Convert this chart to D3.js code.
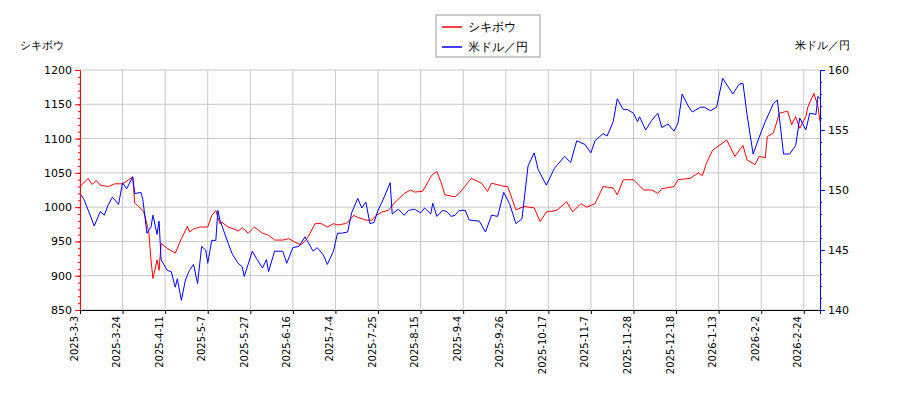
<!DOCTYPE html>
<html><head><meta charset="utf-8">
<script src="https://cdn.jsdelivr.net/npm/d3@7"></script>
<style>body{margin:0;background:#fff}text{font-family:"DejaVu Sans",sans-serif}</style>
</head><body><svg id="c" width="900" height="400"></svg>
<script>
const tickLabels = ["2025-3-3","2025-3-24","2025-4-11","2025-5-7","2025-5-27","2025-6-16","2025-7-4","2025-7-25","2025-8-15","2025-9-4","2025-9-26","2025-10-17","2025-11-7","2025-11-28","2025-12-18","2026-1-13","2026-2-2","2026-2-24"];
const redDays = [0,4,6,8,10,14,17,21,26,27,31,32,34,35,36,38,39,40,43,47,50,53,54,56,59,63,65,67,69,70,73,76,78,80,83,86,90,93,96,100,103,106,109,112,116,119,122,125,127,131,132,135,137,141,144,146,149,152,155,160,163,165,169,173,174,176,178,180,185,187,193,198,201,203,208,211,215,219,224,227,230,235,240,243,247,250,254,258,263,265,268,273,278,282,285,287,293,295,301,305,307,309,312,319,323,327,329,333,335,338,339,342,345,349,351,353,355,358,359,362,364,365];
const redValues = [1030,1042,1033,1039,1032,1030,1034,1034,1044,1006,995,988,962,923,896,923,908,947,940,933,954,972,964,968,971,971,988,995,976,978,971,968,965,970,962,971,962,959,952,952,954,949,945,954,976,976,971,976,974,976,978,988,985,981,981,988,993,995,1006,1020,1025,1022,1023,1044,1048,1052,1037,1018,1015,1020,1042,1035,1023,1035,1031,1030,996,1001,999,979,993,995,1008,993,1005,1000,1005,1030,1028,1018,1040,1040,1025,1025,1020,1027,1030,1040,1042,1050,1046,1064,1083,1098,1074,1090,1069,1062,1074,1072,1103,1108,1137,1140,1120,1132,1115,1132,1146,1166,1147,1125];
const blueDays = [0,2,5,7,10,12,14,16,19,21,23,26,27,30,31,33,35,36,38,39,40,43,45,47,48,50,52,54,56,58,60,62,63,65,67,68,69,73,75,78,80,81,85,87,90,92,93,96,100,102,105,108,111,112,115,117,120,122,125,127,129,132,134,137,139,141,143,145,147,149,153,154,157,160,162,165,168,170,173,174,176,179,181,183,185,187,190,192,197,200,203,206,209,212,215,218,221,224,226,230,234,239,242,245,249,252,254,258,260,263,265,268,270,273,275,276,279,282,285,287,290,293,295,297,300,302,306,308,311,314,317,322,325,327,329,332,335,338,342,344,347,350,353,355,358,360,363,364,365];
const blueValues = [149.7,149.2,147.9,147,148.2,147.9,148.8,149.4,148.8,150.6,150.1,151.1,149.7,149.8,149.2,146.4,146.9,147.9,146.3,147.4,144.2,143.3,143.2,141.9,142.6,140.8,142.5,143.3,143.8,142.2,145.3,145,143.9,145.8,145.8,148.3,147.5,145.6,144.7,143.9,143.6,142.8,144.9,144.3,143.5,144.2,143.2,144.9,144.9,143.9,145.2,145.3,146.1,145.8,144.9,145.2,144.6,143.8,144.9,146.4,146.4,146.5,148.1,149.3,148.5,149,147.2,147.3,148.3,149,150.6,148,148.4,147.9,148.3,148.4,148.1,148.5,148,148.9,147.8,148.3,148.2,147.8,147.9,148.3,148.3,147.5,147.4,146.5,147.9,147.8,149.8,148.8,147.2,147.6,152,153.1,151.7,150.4,151.8,152.8,152.3,154.1,153.8,153.1,154.1,154.7,154.5,155.7,157.6,156.7,156.7,156.4,155.7,156.1,155,155.8,156.4,155.2,155.5,154.9,155.6,158,157,156.5,156.9,156.9,156.6,156.9,159.3,158,158.8,158.9,156.3,153,154.4,155.7,157.2,157.5,153,153,153.7,156,155,156.4,156.3,157.8,157.6];
const leftTicks = [850,900,950,1000,1050,1100,1150,1200];
const rightTicks = [140,145,150,155,160];
const seriesNames = ["シキボウ","米ドル／円"];

const svg = d3.select("#c");
const m = {l:80,r:820,t:70,b:310};
const x = d3.scaleLinear().domain([0,365]).range([m.l, m.r]);
const yL = d3.scaleLinear().domain([850,1200]).range([m.b, m.t]);
const yR = d3.scaleLinear().domain([140,160]).range([m.b, m.t]);
const xTicks = tickLabels.map((_,i)=>i*21);

const g = svg.append("g");
g.selectAll(".vg").data(xTicks).join("line").attr("x1",d=>x(d)).attr("x2",d=>x(d)).attr("y1",m.t).attr("y2",m.b).attr("stroke","#c8c8c8");
g.selectAll(".hg").data(leftTicks).join("line").attr("x1",m.l).attr("x2",m.r).attr("y1",d=>yL(d)).attr("y2",d=>yL(d)).attr("stroke","#c8c8c8");

const redPts = redDays.map((d,i)=>[d, redValues[i]]);
const bluePts = blueDays.map((d,i)=>[d, blueValues[i]]);
svg.append("path").datum(redPts).attr("fill","none").attr("stroke","#ff0000").attr("stroke-width",1)
  .attr("d", d3.line().x(d=>x(d[0])).y(d=>yL(d[1])));
svg.append("path").datum(bluePts).attr("fill","none").attr("stroke","#0000ff").attr("stroke-width",1)
  .attr("d", d3.line().x(d=>x(d[0])).y(d=>yR(d[1])));

const la = svg.append("g").attr("transform",`translate(${m.l},0)`)
  .call(d3.axisLeft(yL).tickValues(leftTicks).tickFormat(d3.format("d")).tickSize(5).tickPadding(3));
la.select(".domain").attr("stroke","#ff0000");
la.selectAll("line").attr("stroke","#ff0000");
la.selectAll("text").attr("font-size",11).attr("fill","#000");
svg.append("g").attr("transform",`translate(${m.l},0)`)
  .call(d3.axisLeft(yL).tickValues(d3.range(850,1201,10)).tickSize(2).tickFormat(""))
  .call(s=>{s.select(".domain").remove();s.selectAll("line").attr("stroke","#ff0000");});

const ra = svg.append("g").attr("transform",`translate(${m.r},0)`)
  .call(d3.axisRight(yR).tickValues(rightTicks).tickFormat(d3.format("d")).tickSize(5).tickPadding(3));
ra.select(".domain").attr("stroke","#0000ff");
ra.selectAll("line").attr("stroke","#0000ff");
ra.selectAll("text").attr("font-size",11).attr("fill","#000");
svg.append("g").attr("transform",`translate(${m.r},0)`)
  .call(d3.axisRight(yR).tickValues(d3.range(140,160.01,1)).tickSize(2).tickFormat(""))
  .call(s=>{s.select(".domain").remove();s.selectAll("line").attr("stroke","#0000ff");});

const xa = svg.append("g").attr("transform",`translate(0,${m.b})`)
  .call(d3.axisBottom(x).tickValues(xTicks).tickFormat((d,i)=>tickLabels[i]).tickSize(4));
xa.select(".domain").attr("stroke","#000");
xa.selectAll("text").attr("font-size",10).attr("transform","rotate(-90)")
  .attr("text-anchor","end").attr("x",-6).attr("y",-3).attr("dy","0").attr("fill","#000");

svg.append("text").attr("x",20).attr("y",49).attr("font-size",11).text(seriesNames[0]);
svg.append("text").attr("x",850).attr("y",49).attr("font-size",11).attr("text-anchor","end").text(seriesNames[1]);

const lg = svg.append("g");
lg.append("rect").attr("x",436).attr("y",15).attr("width",104).attr("height",42).attr("fill","#fff").attr("stroke","#999");
seriesNames.forEach((n,i)=>{
  const yy = 27 + i*20;
  lg.append("line").attr("x1",442).attr("x2",462).attr("y1",yy).attr("y2",yy).attr("stroke",i?"#0000ff":"#ff0000").attr("stroke-width",1.5);
  lg.append("text").attr("x",468).attr("y",yy+4).attr("font-size",12).text(n);
});
</script></body></html>
